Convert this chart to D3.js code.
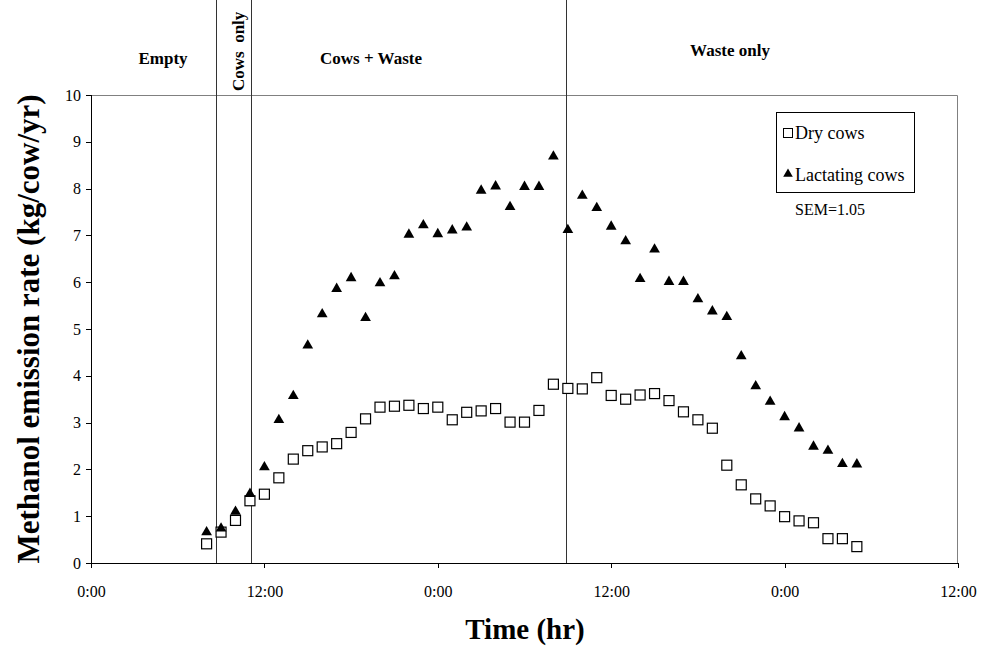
<!DOCTYPE html>
<head>
<meta charset="utf-8">
<style>
    body { margin: 0; background: #fff; }
    text { font-family: "Liberation Serif", "Times New Roman", serif; fill: #000; }
    .axis path, .axis line { stroke: #000; shape-rendering: crispEdges; }
    .axis text { font-size: 16px; }
</style>
</head>
<body>
    <script src="https://d3js.org/d3.v7.min.js"></script>
    <script>

    ///////////////////////////
    ////////// DATA ///////////
    ///////////////////////////

    // hours since 0:00 of day one, one reading per hour
    const hours = [8, 9, 10, 11, 12, 13, 14, 15, 16, 17, 18, 19, 20, 21,
                   22, 23, 24, 25, 26, 27, 28, 29, 30, 31, 32, 33, 34, 35,
                   36, 37, 38, 39, 40, 41, 42, 43, 44, 45, 46, 47, 48, 49, 50, 51, 52, 53];
    const dryCows = [0.41, 0.66, 0.91, 1.33, 1.47, 1.82, 2.22, 2.40, 2.48, 2.55, 2.79, 3.08, 3.33, 3.35,
                     3.37, 3.30, 3.33, 3.06, 3.22, 3.25, 3.30, 3.01, 3.01, 3.26, 3.82, 3.73, 3.72, 3.96,
                     3.58, 3.50, 3.59, 3.62, 3.47, 3.23, 3.06, 2.88, 2.09, 1.67, 1.37, 1.22, 0.99, 0.90, 0.86, 0.52, 0.52, 0.35];
    const lactatingCows = [0.68, 0.76, 1.12, 1.50, 2.07, 3.08, 3.59, 4.67, 5.34, 5.88, 6.11, 5.26, 6.00, 6.15,
                           7.04, 7.24, 7.05, 7.13, 7.19, 7.98, 8.07, 7.63, 8.06, 8.06, 8.71, 7.14, 7.87, 7.61,
                           7.21, 6.90, 6.09, 6.72, 6.03, 6.03, 5.66, 5.40, 5.28, 4.44, 3.80, 3.47, 3.14, 2.90, 2.51, 2.42, 2.14, 2.13];

    const xTicks = [0, 12, 24, 36, 48, 60];
    const yTicks = [0, 1, 2, 3, 4, 5, 6, 7, 8, 9, 10];

    // phase boundaries (hr) and the phase labels
    const boundaries = [8.7, 11.1, 32.9];
    const phases = ['Empty', 'Cows  only', 'Cows + Waste', 'Waste only'];
    const seriesNames = ['Dry cows', 'Lactating cows'];
    const semText = 'SEM=1.05';

    ///////////////////////////
    ////////// SETUP //////////
    ///////////////////////////

    const W = 982, H = 650;
    const pLeft = 91, pRight = 958, pTop = 95, pBottom = 563;

    let svg = d3.select('body').append('svg')
        .attr('width', W)
        .attr('height', H);

    let x = d3.scaleLinear().domain([0, 60]).range([pLeft, pRight]);
    let y = d3.scaleLinear().domain([0, 10]).range([pBottom, pTop]);

    // plot area border (top and right)
    svg.append('path')
        .attr('d', `M${pLeft},${pTop + 0.5}H${pRight - 0.5}V${pBottom}`)
        .attr('fill', 'none')
        .attr('stroke', '#808080');

    //////////////////////////
    ////////// AXES //////////
    //////////////////////////

    svg.append('g').attr('class', 'axis')
        .attr('transform', `translate(0,${pBottom})`)
        .call(d3.axisBottom(x).tickValues(xTicks).tickSize(5).tickPadding(18)
            .tickFormat(h => (h % 24) + ':00'));

    svg.append('g').attr('class', 'axis')
        .attr('transform', `translate(${pLeft},0)`)
        .call(d3.axisLeft(y).tickValues(yTicks).tickSize(5).tickPadding(5));

    svg.append('text')
        .attr('x', 525).attr('y', 639)
        .attr('text-anchor', 'middle')
        .style('font-size', '29px').style('font-weight', 'bold')
        .text('Time (hr)');

    svg.append('text')
        .attr('transform', `translate(39,${(pTop + pBottom) / 2}) rotate(-90)`)
        .attr('text-anchor', 'middle')
        .style('font-size', '31px').style('font-weight', 'bold')
        .text('Methanol emission rate (kg/cow/yr)');

    ////////////////////////////
    ////////// PHASES //////////
    ////////////////////////////

    svg.selectAll('line.phase').data(boundaries)
        .enter().append('line')
            .attr('class', 'phase')
            .attr('x1', d => x(d)).attr('x2', d => x(d))
            .attr('y1', 0).attr('y2', pBottom)
            .attr('stroke', '#333')
            .attr('shape-rendering', 'crispEdges');

    // label anchors
    const phaseX = [163, 244, 371, 730];
    const phaseY = [64, 91, 64, 56];
    phases.forEach((p, i) => {
        let t = svg.append('text')
            .style('font-size', '17px').style('font-weight', 'bold')
            .style('white-space', 'pre')
            .text(p);
        if (i === 1) {
            t.attr('text-anchor', 'start')
             .attr('transform', `translate(${phaseX[i]},${phaseY[i]}) rotate(-90)`);
        } else {
            t.attr('text-anchor', 'middle')
             .attr('x', phaseX[i]).attr('y', phaseY[i]);
        }
    });

    /////////////////////////////
    ////////// MARKERS //////////
    /////////////////////////////

    const tri = d3.symbol().type(d3.symbolTriangle).size(50);

    svg.selectAll('rect.dry').data(hours)
        .enter().append('rect')
            .attr('class', 'dry')
            .attr('x', (d, i) => x(d) - 5)
            .attr('y', (d, i) => y(dryCows[i]) - 5)
            .attr('width', 10).attr('height', 10)
            .attr('fill', '#fff').attr('stroke', '#000').attr('stroke-width', 1.2);

    svg.selectAll('path.lact').data(hours)
        .enter().append('path')
            .attr('class', 'lact')
            .attr('d', tri)
            .attr('transform', (d, i) => `translate(${x(d)},${y(lactatingCows[i]) + 1})`)
            .attr('fill', '#000');

    ////////////////////////////
    ////////// LEGEND //////////
    ////////////////////////////

    let lg = svg.append('g');
    lg.append('rect')
        .attr('x', 776.5).attr('y', 112.5).attr('width', 138).attr('height', 80)
        .attr('fill', '#fff').attr('stroke', '#000');
    lg.append('rect')
        .attr('x', 783.5).attr('y', 128.5).attr('width', 9).attr('height', 9)
        .attr('fill', '#fff').attr('stroke', '#000');
    lg.append('path')
        .attr('d', d3.symbol().type(d3.symbolTriangle).size(40))
        .attr('transform', 'translate(788,174)')
        .attr('fill', '#000');
    lg.selectAll('text.lg').data(seriesNames)
        .enter().append('text')
            .attr('x', 795)
            .attr('y', (d, i) => 139 + i * 42)
            .style('font-size', '18px')
            .text(d => d);

    svg.append('text')
        .attr('x', 830).attr('y', 215)
        .attr('text-anchor', 'middle')
        .style('font-size', '16px')
        .text(semText);

    </script>
</body>
